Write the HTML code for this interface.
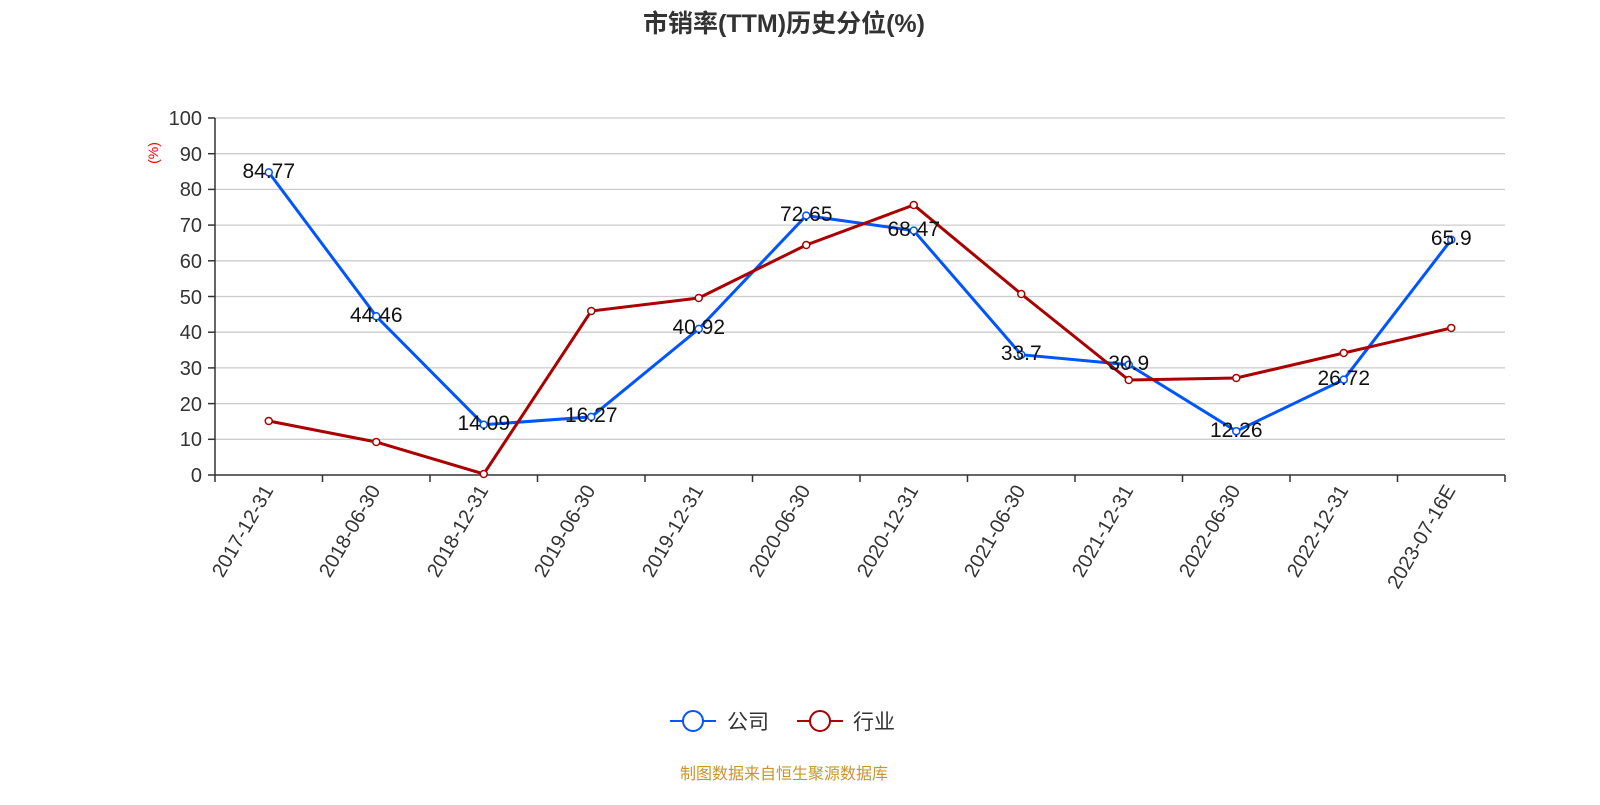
<!DOCTYPE html>
<html><head><meta charset="utf-8"><style>
html,body{margin:0;padding:0;background:#fff;}
svg text{font-family:"Liberation Sans","Noto Sans CJK SC",sans-serif;}
</style></head><body>
<svg width="1600" height="800" xmlns="http://www.w3.org/2000/svg">
<text x="784" y="32" text-anchor="middle" font-size="25" font-weight="bold" fill="#333">市销率(TTM)历史分位(%)</text>
<g stroke="#ccc" stroke-width="1.3">
<line x1="215" x2="1505" y1="118" y2="118"/><line x1="215" x2="1505" y1="153.7" y2="153.7"/>
<line x1="215" x2="1505" y1="189.4" y2="189.4"/><line x1="215" x2="1505" y1="225.1" y2="225.1"/>
<line x1="215" x2="1505" y1="260.8" y2="260.8"/><line x1="215" x2="1505" y1="296.5" y2="296.5"/>
<line x1="215" x2="1505" y1="332.2" y2="332.2"/><line x1="215" x2="1505" y1="367.9" y2="367.9"/>
<line x1="215" x2="1505" y1="403.6" y2="403.6"/><line x1="215" x2="1505" y1="439.3" y2="439.3"/>
</g>
<g stroke="#333" stroke-width="1.5">
<line x1="215" x2="215" y1="118" y2="475"/><line x1="215" x2="1505" y1="475" y2="475"/>
<line x1="208" x2="215" y1="118" y2="118"/><line x1="208" x2="215" y1="153.7" y2="153.7"/><line x1="208" x2="215" y1="189.4" y2="189.4"/><line x1="208" x2="215" y1="225.1" y2="225.1"/><line x1="208" x2="215" y1="260.8" y2="260.8"/><line x1="208" x2="215" y1="296.5" y2="296.5"/><line x1="208" x2="215" y1="332.2" y2="332.2"/><line x1="208" x2="215" y1="367.9" y2="367.9"/><line x1="208" x2="215" y1="403.6" y2="403.6"/><line x1="208" x2="215" y1="439.3" y2="439.3"/><line x1="208" x2="215" y1="475" y2="475"/>
<line x1="215" x2="215" y1="475" y2="482"/><line x1="322.5" x2="322.5" y1="475" y2="482"/><line x1="430" x2="430" y1="475" y2="482"/><line x1="537.5" x2="537.5" y1="475" y2="482"/><line x1="645" x2="645" y1="475" y2="482"/><line x1="752.5" x2="752.5" y1="475" y2="482"/><line x1="860" x2="860" y1="475" y2="482"/><line x1="967.5" x2="967.5" y1="475" y2="482"/><line x1="1075" x2="1075" y1="475" y2="482"/><line x1="1182.5" x2="1182.5" y1="475" y2="482"/><line x1="1290" x2="1290" y1="475" y2="482"/><line x1="1397.5" x2="1397.5" y1="475" y2="482"/><line x1="1505" x2="1505" y1="475" y2="482"/>
</g>
<g font-size="20" fill="#333" text-anchor="end">
<text x="202" y="125">100</text><text x="202" y="161">90</text><text x="202" y="196">80</text><text x="202" y="232">70</text><text x="202" y="268">60</text><text x="202" y="304">50</text><text x="202" y="339">40</text><text x="202" y="375">30</text><text x="202" y="411">20</text><text x="202" y="446">10</text><text x="202" y="482">0</text>
</g>
<text transform="translate(158,153) rotate(-90)" font-size="14" fill="#e00" text-anchor="middle">(%)</text>
<g font-size="20" fill="#333" text-anchor="end">
<text transform="translate(274,490) rotate(-60)">2017-12-31</text>
<text transform="translate(381,490) rotate(-60)">2018-06-30</text>
<text transform="translate(489,490) rotate(-60)">2018-12-31</text>
<text transform="translate(596,490) rotate(-60)">2019-06-30</text>
<text transform="translate(704,490) rotate(-60)">2019-12-31</text>
<text transform="translate(811,490) rotate(-60)">2020-06-30</text>
<text transform="translate(919,490) rotate(-60)">2020-12-31</text>
<text transform="translate(1026,490) rotate(-60)">2021-06-30</text>
<text transform="translate(1134,490) rotate(-60)">2021-12-31</text>
<text transform="translate(1241,490) rotate(-60)">2022-06-30</text>
<text transform="translate(1349,490) rotate(-60)">2022-12-31</text>
<text transform="translate(1456,490) rotate(-60)">2023-07-16E</text>
</g>
<polyline fill="none" stroke="#0055ff" stroke-width="3" points="268.75,172.4 376.25,316.3 483.75,424.7 591.25,416.9 698.75,328.9 806.25,215.6 913.75,230.6 1021.25,354.7 1128.75,364.7 1236.25,431.2 1343.75,379.6 1451.25,239.7"/>
<polyline fill="none" stroke="#aa0000" stroke-width="3" points="268.75,421 376.25,442 483.75,474 591.25,311 698.75,298 806.25,245 913.75,205 1021.25,294 1128.75,380 1236.25,378 1343.75,353 1451.25,328"/>
<g fill="#fff" stroke="#0055ff" stroke-width="1.5">
<circle cx="268.75" cy="172.4" r="3.5"/><circle cx="376.25" cy="316.3" r="3.5"/><circle cx="483.75" cy="424.7" r="3.5"/><circle cx="591.25" cy="416.9" r="3.5"/><circle cx="698.75" cy="328.9" r="3.5"/><circle cx="806.25" cy="215.6" r="3.5"/><circle cx="913.75" cy="230.6" r="3.5"/><circle cx="1021.25" cy="354.7" r="3.5"/><circle cx="1128.75" cy="364.7" r="3.5"/><circle cx="1236.25" cy="431.2" r="3.5"/><circle cx="1343.75" cy="379.6" r="3.5"/><circle cx="1451.25" cy="239.7" r="3.5"/>
</g>
<g fill="#fff" stroke="#aa0000" stroke-width="1.5">
<circle cx="268.75" cy="421" r="3.5"/><circle cx="376.25" cy="442" r="3.5"/><circle cx="483.75" cy="474" r="3.5"/><circle cx="591.25" cy="311" r="3.5"/><circle cx="698.75" cy="298" r="3.5"/><circle cx="806.25" cy="245" r="3.5"/><circle cx="913.75" cy="205" r="3.5"/><circle cx="1021.25" cy="294" r="3.5"/><circle cx="1128.75" cy="380" r="3.5"/><circle cx="1236.25" cy="378" r="3.5"/><circle cx="1343.75" cy="353" r="3.5"/><circle cx="1451.25" cy="328" r="3.5"/>
</g>
<g font-size="21" fill="#111" text-anchor="middle">
<text x="268.75" y="178">84.77</text><text x="376.25" y="322">44.46</text><text x="483.75" y="430">14.09</text><text x="591.25" y="422">16.27</text><text x="698.75" y="334">40.92</text><text x="806.25" y="221">72.65</text><text x="913.75" y="236">68.47</text><text x="1021.25" y="360">33.7</text><text x="1128.75" y="370">30.9</text><text x="1236.25" y="437">12.26</text><text x="1343.75" y="385">26.72</text><text x="1451.25" y="245">65.9</text>
</g>
<line x1="670" x2="716" y1="721" y2="721" stroke="#0055ff" stroke-width="2"/>
<circle cx="693" cy="721" r="10" fill="#fff" stroke="#0055ff" stroke-width="2"/>
<text x="727" y="729" font-size="21" fill="#333">公司</text>
<line x1="797" x2="843" y1="721" y2="721" stroke="#aa0000" stroke-width="2"/>
<circle cx="820" cy="721" r="10" fill="#fff" stroke="#aa0000" stroke-width="2"/>
<text x="853" y="729" font-size="21" fill="#333">行业</text>
<text x="784" y="779" text-anchor="middle" font-size="16" fill="#c8962a">制图数据来自恒生聚源数据库</text>
</svg>
</body></html>
